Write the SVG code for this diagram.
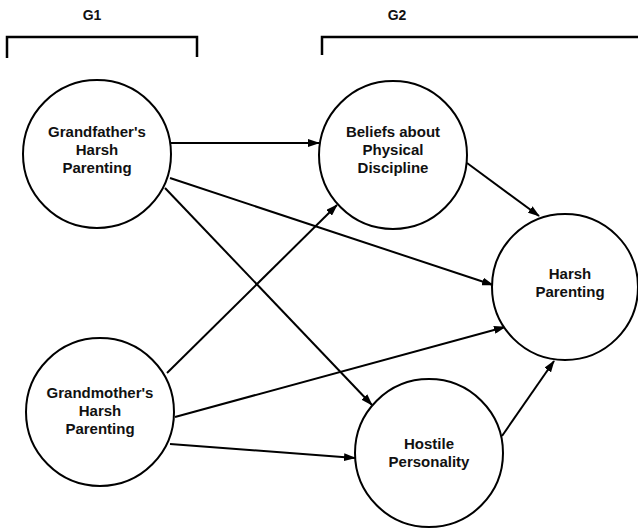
<svg xmlns="http://www.w3.org/2000/svg" width="638" height="529" viewBox="0 0 638 529">
  <style>
    .node circle { fill: #fff; stroke: #000; stroke-width: 2; }
    .node text, .hdr { font-family: "Liberation Sans", Arial, sans-serif; font-weight: bold; font-size: 15px; fill: #111; text-anchor: middle; }
    .hdr { font-size: 14px; }
    .bracket { fill: none; stroke: #000; stroke-width: 2.5; }
    .edge { stroke: #000; stroke-width: 2; fill: none; marker-end: url(#arrow); }
  </style>
  <defs>
    <marker id="arrow" markerUnits="userSpaceOnUse" markerWidth="12" markerHeight="8" refX="11" refY="4" orient="auto">
      <path d="M0,0 L12,4 L0,8 z" fill="#000"/>
    </marker>
  </defs>
  <rect width="638" height="529" fill="#fff"/>

  <!-- generation headers -->
  <g id="header-g1">
    <text class="hdr" x="92" y="20">G1</text>
    <path class="bracket" d="M7,58 V37 H197 V57"/>
  </g>
  <g id="header-g2">
    <text class="hdr" x="397" y="20">G2</text>
    <path class="bracket" d="M322,55 V37 H640"/>
  </g>

  <!-- connectors -->
  <g id="connectors">
    <line class="edge" x1="171" y1="143" x2="319" y2="143"/>
    <line class="edge" x1="170" y1="178" x2="493" y2="285"/>
    <line class="edge" x1="165" y1="188" x2="372" y2="405"/>
    <line class="edge" x1="167" y1="373" x2="337" y2="205"/>
    <line class="edge" x1="175" y1="417" x2="505" y2="327"/>
    <line class="edge" x1="170" y1="444" x2="355" y2="458"/>
    <line class="edge" x1="467" y1="163" x2="539" y2="216"/>
    <line class="edge" x1="502" y1="436" x2="554" y2="361"/>
  </g>

  <!-- nodes -->
  <g id="grandfather" class="node">
    <circle cx="97" cy="154" r="74"/>
    <text x="97" y="137">Grandfather's</text>
    <text x="97" y="155">Harsh</text>
    <text x="97" y="173">Parenting</text>
  </g>
  <g id="grandmother" class="node">
    <circle cx="100" cy="412" r="74"/>
    <text x="100" y="398">Grandmother's</text>
    <text x="100" y="416">Harsh</text>
    <text x="100" y="434">Parenting</text>
  </g>
  <g id="beliefs" class="node">
    <circle cx="393" cy="155" r="74"/>
    <text x="393" y="137">Beliefs about</text>
    <text x="393" y="155">Physical</text>
    <text x="393" y="173">Discipline</text>
  </g>
  <g id="harsh-parenting" class="node">
    <circle cx="565" cy="287" r="73"/>
    <text x="570" y="279">Harsh</text>
    <text x="570" y="297">Parenting</text>
  </g>
  <g id="hostile" class="node">
    <circle cx="429" cy="453" r="74"/>
    <text x="429" y="449">Hostile</text>
    <text x="429" y="467">Personality</text>
  </g>
</svg>
